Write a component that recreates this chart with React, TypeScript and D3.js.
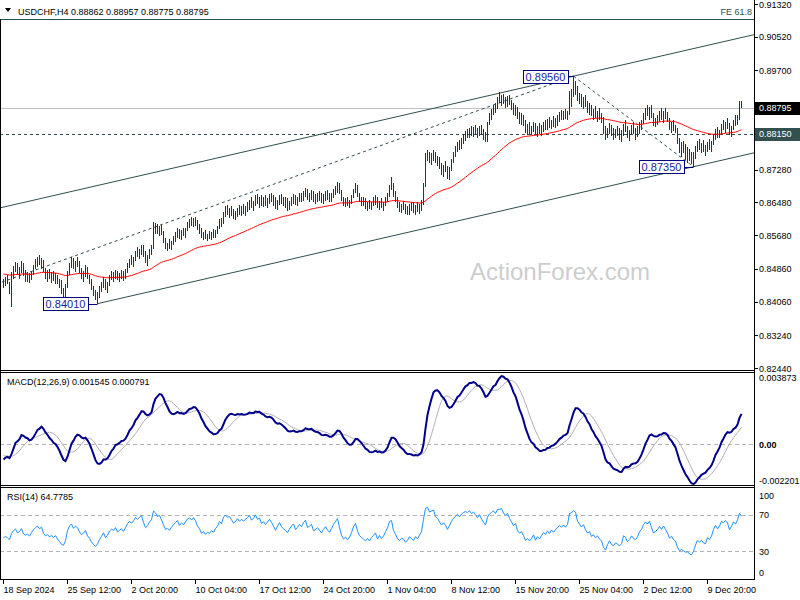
import React from "react";
import * as d3 from "d3";

// ---------- DATA ----------
const titleText = "USDCHF,H4  0.88862 0.88957 0.88775 0.88795";
const macdTitle = "MACD(12,26,9) 0.001545 0.000791";
const rsiTitle = "RSI(14) 64.7785";

// H4 bars: [high, low, close] in pips (price * 10000)
const barsHLC: number[][] = [
  [8462,8440,8452],[8465,8445,8458],[8470,8448,8450],[8455,8425,8438],[8478,8393,8470],[8492,8462,8485],
  [8503,8478,8495],[8500,8470,8475],[8490,8460,8482],[8505,8475,8498],[8500,8468,8472],[8482,8455,8465],
  [8478,8455,8470],[8475,8452,8460],[8480,8458,8476],[8495,8470,8490],[8510,8485,8500],[8515,8490,8508],
  [8520,8495,8498],[8512,8485,8505],[8508,8478,8482],[8488,8462,8470],[8482,8455,8475],[8485,8460,8465],
  [8478,8452,8470],[8480,8456,8462],[8475,8450,8468],[8472,8448,8455],[8462,8440,8445],[8458,8425,8432],
  [8440,8418,8428],[8448,8417,8440],[8480,8440,8475],[8500,8470,8495],[8515,8488,8505],[8512,8485,8490],
  [8505,8478,8500],[8515,8490,8495],[8505,8475,8480],[8488,8462,8470],[8480,8455,8475],[8495,8465,8485],
  [8490,8460,8465],[8472,8450,8455],[8460,8435,8440],[8445,8420,8428],[8435,8410,8418],[8430,8401,8425],
  [8445,8415,8438],[8455,8430,8448],[8466,8440,8460],[8462,8435,8442],[8455,8428,8450],[8470,8445,8465],
  [8480,8458,8472],[8478,8455,8468],[8483,8460,8478],[8480,8458,8465],[8475,8455,8470],[8482,8460,8476],
  [8480,8457,8468],[8485,8462,8480],[8500,8475,8495],[8510,8488,8505],[8520,8495,8500],[8515,8490,8510],
  [8530,8505,8525],[8540,8515,8520],[8535,8510,8530],[8545,8520,8538],[8544,8515,8522],[8530,8500,8508],
  [8520,8492,8515],[8535,8510,8530],[8545,8520,8540],[8600,8535,8590],[8598,8572,8585],[8595,8570,8575],
  [8590,8565,8582],[8592,8568,8570],[8578,8550,8555],[8560,8535,8540],[8550,8530,8545],[8558,8535,8538],
  [8555,8532,8550],[8565,8545,8560],[8575,8552,8570],[8585,8560,8578],[8582,8558,8565],[8580,8556,8575],
  [8586,8565,8570],[8585,8562,8582],[8600,8578,8595],[8608,8585,8600],[8612,8590,8595],[8610,8588,8605],
  [8612,8590,8598],[8605,8580,8585],[8595,8570,8578],[8585,8560,8565],[8575,8556,8570],[8580,8558,8562],
  [8572,8555,8568],[8578,8558,8565],[8575,8556,8572],[8582,8560,8568],[8580,8562,8578],[8590,8570,8585],
  [8608,8582,8600],[8610,8588,8595],[8625,8595,8620],[8638,8612,8630],[8642,8618,8625],[8635,8610,8628],
  [8640,8615,8622],[8632,8608,8615],[8628,8605,8620],[8635,8612,8630],[8642,8618,8625],[8638,8615,8632],
  [8645,8620,8628],[8640,8616,8635],[8648,8625,8640],[8655,8630,8648],[8660,8635,8640],[8652,8628,8645],
  [8665,8640,8658],[8668,8645,8650],[8660,8635,8655],[8665,8640,8645],[8660,8637,8650],[8665,8640,8645],
  [8658,8635,8652],[8668,8645,8660],[8670,8648,8655],[8665,8640,8648],[8660,8632,8640],[8655,8630,8650],
  [8665,8642,8660],[8668,8645,8652],[8662,8640,8648],[8660,8635,8645],[8658,8628,8640],[8652,8630,8648],
  [8662,8640,8655],[8668,8645,8660],[8665,8642,8650],[8660,8638,8655],[8670,8648,8662],[8672,8650,8658],
  [8675,8652,8668],[8683,8660,8675],[8680,8655,8662],[8672,8650,8665],[8678,8655,8670],[8675,8650,8658],
  [8668,8645,8660],[8670,8648,8665],[8676,8652,8660],[8670,8646,8655],[8668,8645,8662],[8675,8652,8668],
  [8678,8655,8662],[8672,8648,8658],[8670,8650,8665],[8680,8658,8675],[8688,8665,8682],[8698,8672,8690],
  [8695,8668,8675],[8678,8652,8658],[8662,8640,8648],[8658,8637,8652],[8660,8638,8645],[8655,8635,8650],
  [8665,8645,8660],[8680,8658,8675],[8695,8670,8685],[8690,8662,8668],[8672,8648,8655],[8662,8640,8650],
  [8660,8638,8645],[8658,8632,8640],[8650,8628,8645],[8655,8632,8638],[8650,8630,8645],[8660,8638,8650],
  [8665,8642,8655],[8660,8635,8640],[8652,8630,8648],[8658,8635,8640],[8650,8628,8645],[8662,8640,8655],
  [8672,8648,8665],[8690,8660,8685],[8710,8678,8688],[8695,8660,8665],[8675,8650,8655],[8660,8635,8640],
  [8648,8625,8635],[8645,8622,8640],[8652,8630,8638],[8645,8620,8628],[8640,8617,8632],[8645,8618,8640],
  [8650,8628,8635],[8648,8622,8630],[8642,8618,8638],[8650,8625,8632],[8645,8620,8640],[8655,8628,8648],
  [8695,8642,8688],[8768,8685,8755],[8776,8748,8765],[8772,8745,8752],[8768,8740,8760],[8775,8750,8768],
  [8770,8745,8750],[8762,8738,8745],[8758,8730,8735],[8745,8715,8725],[8740,8710,8735],[8750,8722,8728],
  [8738,8705,8715],[8735,8703,8730],[8755,8725,8750],[8770,8745,8765],[8785,8758,8778],[8795,8770,8788],
  [8800,8775,8782],[8805,8778,8798],[8815,8790,8808],[8822,8798,8815],[8828,8805,8812],[8830,8805,8825],
  [8835,8810,8818],[8832,8808,8828],[8838,8815,8822],[8830,8805,8815],[8835,8810,8830],[8837,8812,8820],
  [8828,8800,8812],[8820,8795,8805],[8845,8795,8840],[8865,8838,8858],[8875,8850,8868],[8885,8860,8878],
  [8890,8865,8872],[8905,8875,8898],[8917,8890,8900],[8910,8882,8905],[8912,8888,8895],[8905,8878,8890],
  [8908,8880,8900],[8910,8885,8888],[8898,8873,8880],[8890,8862,8870],[8885,8858,8878],[8880,8852,8858],
  [8868,8840,8850],[8865,8838,8855],[8862,8835,8842],[8848,8818,8825],[8840,8812,8830],[8845,8815,8822],
  [8835,8812,8828],[8845,8820,8838],[8842,8815,8820],[8835,8808,8830],[8842,8815,8822],[8838,8810,8832],
  [8845,8820,8840],[8850,8825,8835],[8852,8825,8845],[8856,8830,8838],[8850,8826,8848],[8858,8832,8842],
  [8855,8830,8850],[8860,8835,8855],[8868,8845,8862],[8873,8850,8858],[8870,8848,8865],[8875,8852,8860],
  [8872,8850,8868],[8920,8862,8912],[8925,8880,8915],[8956,8905,8928],[8945,8910,8925],[8932,8895,8905],
  [8915,8888,8898],[8912,8880,8890],[8905,8875,8898],[8910,8880,8885],[8895,8866,8875],[8890,8862,8880],
  [8885,8858,8865],[8875,8848,8870],[8882,8855,8860],[8870,8845,8865],[8878,8850,8855],[8865,8842,8850],
  [8856,8815,8825],[8835,8800,8812],[8830,8805,8825],[8842,8815,8835],[8838,8810,8820],[8830,8800,8815],
  [8828,8805,8822],[8835,8810,8818],[8830,8800,8810],[8825,8795,8815],[8840,8810,8835],[8849,8820,8830],
  [8835,8805,8815],[8825,8798,8820],[8838,8812,8830],[8845,8815,8822],[8830,8800,8818],[8835,8808,8825],
  [8844,8815,8838],[8850,8825,8845],[8865,8840,8860],[8878,8850,8870],[8886,8858,8865],[8880,8850,8875],
  [8885,8855,8860],[8866,8835,8845],[8855,8832,8850],[8862,8838,8855],[8870,8845,8865],[8878,8850,8858],
  [8872,8842,8868],[8878,8852,8860],[8868,8845,8850],[8854,8825,8835],[8845,8818,8840],[8850,8822,8830],
  [8838,8817,8825],[8830,8790,8800],[8805,8768,8785],[8795,8758,8788],[8798,8768,8782],[8790,8752,8775],
  [8782,8745,8776],[8778,8748,8765],[8772,8742,8762],[8770,8735,8768],[8785,8755,8780],[8798,8770,8790],
  [8802,8775,8784],[8792,8768,8788],[8800,8772,8780],[8788,8762,8778],[8795,8770,8790],[8802,8776,8785],
  [8798,8772,8792],[8815,8788,8808],[8828,8800,8820],[8832,8805,8812],[8825,8805,8820],[8840,8815,8835],
  [8850,8825,8832],[8845,8818,8840],[8854,8828,8835],[8842,8812,8820],[8835,8808,8830],[8848,8825,8845],
  [8860,8835,8840],[8862,8838,8855],[8896,8850,8886],[8895.7,8877.5,8879.5],
];

const priceTicks = [0.9132, 0.9052, 0.897, 0.8888, 0.8806, 0.8728, 0.8648, 0.8568, 0.8486, 0.8406, 0.8324, 0.8244];
const timeLabels = ["18 Sep 2024", "25 Sep 12:00", "2 Oct 20:00", "10 Oct 04:00", "17 Oct 12:00", "24 Oct 20:00",
  "1 Nov 04:00", "8 Nov 12:00", "15 Nov 20:00", "25 Nov 04:00", "2 Dec 12:00", "9 Dec 20:00"];
const timeLabelBars = [0, 32, 64, 96, 128, 160, 192, 224, 256, 288, 320, 352];
const macdTickValues = [0.003873, 0, -0.002201];
const macdTickLabels = ["0.003873", "0.00", "-0.002201"];
const rsiTickValues = [100, 70, 30, 0];
const rsiLevels = [70, 30];

// swing points: A (off chart), B high, C low, and the channel low
const fibA = { bar: -46, price: 0.8374 };
const fibB = { bar: 285, price: 0.8956, label: "0.89560" };
const fibC = { bar: 345, price: 0.8735, label: "0.87350" };
const swingLow = { bar: 47, price: 0.8401, label: "0.84010" };
const feRatio = 0.618;
const supportLevel = 0.8815;
const lastPrice = 0.88795;

// indicator seeds (values at the first visible bar)
const maPeriod = 55;
const maSeed = 0.8474;
const ema12Seed = 0.8452;
const ema26Seed = 0.8461;
const signalSeed = -0.0006;
const rsiSeedGain = 0.0009;
const rsiSeedLoss = 0.0011;

// ---------- HELPERS ----------
function ema(vals: number[], period: number, seed: number) {
  const k = 2 / (period + 1);
  let prev = seed;
  return vals.map((v) => (prev = prev + k * (v - prev)));
}

const FONT = "'Liberation Sans', Arial, sans-serif";

export default function App() {
  const W = 800, H = 600;
  const R = 754;
  const x = d3.scaleLinear().domain([0, 1]).range([3.5, 5.5]);
  const y = d3.scaleLinear().domain([0.8244, 0.9132]).range([368, 4]);
  const yM = d3.scaleLinear().domain([-0.002201, 0.003873]).range([485, 372]);
  const yR = d3.scaleLinear().domain([0, 100]).range([579, 487]);

  const highs = barsHLC.map((b) => b[0] / 10000);
  const lows = barsHLC.map((b) => b[1] / 10000);
  const closes = barsHLC.map((b) => b[2] / 10000);

  const ma = ema(closes, maPeriod, maSeed);
  const e12 = ema(closes, 12, ema12Seed);
  const e26 = ema(closes, 26, ema26Seed);
  const macd = e12.map((v, i) => v - e26[i]);
  const signal = macd.map((_, i) => {
    let s = 0;
    for (let k = i - 8; k <= i; k++) s += k >= 0 ? macd[k] : signalSeed;
    return s / 9;
  });
  let ag = rsiSeedGain, al = rsiSeedLoss;
  const rsi = closes.map((c, i) => {
    if (i > 0) {
      const d = c - closes[i - 1];
      ag = (ag * 13 + Math.max(d, 0)) / 14;
      al = (al * 13 + Math.max(-d, 0)) / 14;
    }
    return al === 0 ? 100 : 100 - 100 / (1 + ag / al);
  });

  const lineMain = d3.line<number>().x((_, i) => x(i)).y((d) => y(d));
  const lineM = d3.line<number>().x((_, i) => x(i)).y((d) => yM(d));
  const lineR = d3.line<number>().x((_, i) => x(i)).y((d) => yR(d));

  // channel from swing low to C, parallel through B
  const slope = (fibC.price - swingLow.price) / (fibC.bar - swingLow.bar);
  const barAtX = (px: number) => x.invert(px);
  const rightBar = barAtX(R);
  const leftBar = barAtX(0);
  const lowerEnd = swingLow.price + slope * (rightBar - swingLow.bar);
  const upperAt = (b: number) => fibB.price + slope * (b - fibB.bar);
  const fePrice = fibC.price + feRatio * (fibB.price - fibA.price);

  const pivots = [fibB, fibC, swingLow];

  // price tick labels hidden behind the marker boxes
  const boxYs = [y(supportLevel), y(lastPrice)];
  const visiblePriceTicks = priceTicks.filter((t) => boxYs.every((by) => Math.abs(y(t) - by) > 9));

  return (
    <svg width={W} height={H} style={{ position: "absolute", left: 0, top: 0, background: "#fff" }} fontFamily={FONT}>
      <defs>
        <clipPath id="mainClip"><rect x={1} y={0} width={R - 1} height={370} /></clipPath>
        <clipPath id="macdClip"><rect x={1} y={373} width={R - 1} height={112} /></clipPath>
        <clipPath id="rsiClip"><rect x={1} y={488} width={R - 1} height={91} /></clipPath>
      </defs>
      <rect x={0} y={0} width={W} height={H} fill="#fff" />

      {/* watermark */}
      <text x={560} y={280} textAnchor="middle" fontSize={24} fill="#cdcdcd">ActionForex.com</text>

      <g clipPath="url(#mainClip)">
        <line x1={0} x2={R} y1={Math.round(y(fePrice)) + 0.5} y2={Math.round(y(fePrice)) + 0.5} stroke="#2F4F4F" />
        <line x1={0} x2={R} y1={Math.round(y(lastPrice)) + 0.5} y2={Math.round(y(lastPrice)) + 0.5} stroke="#c0c0c0" />
        <line x1={0} x2={R} y1={Math.round(y(supportLevel)) + 0.5} y2={Math.round(y(supportLevel)) + 0.5} stroke="#2F4F4F" strokeDasharray="3,3" />
        <line x1={0} y1={y(upperAt(leftBar))} x2={R} y2={y(upperAt(rightBar))} stroke="#2F4F4F" />
        <line x1={x(swingLow.bar)} y1={y(swingLow.price)} x2={R} y2={y(lowerEnd)} stroke="#2F4F4F" />
        <line x1={x(fibA.bar)} y1={y(fibA.price)} x2={x(fibB.bar)} y2={y(fibB.price)} stroke="#2F4F4F" strokeDasharray="3,3" />
        <line x1={x(fibB.bar)} y1={y(fibB.price)} x2={x(fibC.bar)} y2={y(fibC.price)} stroke="#2F4F4F" strokeDasharray="3,3" />
        {barsHLC.map((_, i) => (
          <line key={i} x1={x(i)} x2={x(i)} y1={Math.round(y(highs[i]))} y2={Math.max(Math.round(y(lows[i])), Math.round(y(highs[i])) + 1)} stroke="#0f3a5c" />
        ))}
        <path d={lineMain(ma) || ""} fill="none" stroke="#ff0000" strokeWidth={1} />
        {pivots.map((p, k) => {
          const px = x(p.bar), py = y(p.price);
          const bw = 45, bh = 13;
          const gap = k === 0 ? 6 : 10;
          const bx = px - gap - bw;
          return (
            <g key={k}>
              <line x1={bx + bw} x2={px} y1={Math.round(py) + 0.5} y2={Math.round(py) + 0.5} stroke="#000080" />
              <rect x={Math.round(bx) + 0.5} y={Math.round(py - bh / 2) + 0.5} width={bw} height={bh} fill="#fff" stroke="#000080" />
              <text x={bx + bw / 2 + 0.5} y={py + 4.5} textAnchor="middle" fontSize={11} fill="#1a1aa0">{p.label}</text>
            </g>
          );
        })}
        <text x={752} y={15} textAnchor="end" fontSize={9} fill="#2F4F4F">FE 61.8</text>
      </g>

      {/* header */}
      <path d="M5,8 L11,8 L8,12 Z" fill="#000" />
      <text x={18} y={14.5} fontSize={9} fill="#000">{titleText}</text>

      {/* MACD */}
      <g clipPath="url(#macdClip)">
        <line x1={0} x2={R} y1={Math.round(yM(0)) + 0.5} y2={Math.round(yM(0)) + 0.5} stroke="#b4b4b4" strokeDasharray="4,3" />
        <path d={lineM(signal) || ""} fill="none" stroke="#b0b0b0" strokeWidth={1} />
        <path d={lineM(macd) || ""} fill="none" stroke="#00008b" strokeWidth={2} />
      </g>
      <text x={7} y={385} fontSize={9} fill="#000">{macdTitle}</text>

      {/* RSI */}
      <g clipPath="url(#rsiClip)">
        {rsiLevels.map((lv) => (
          <line key={lv} x1={0} x2={R} y1={Math.round(yR(lv)) + 0.5} y2={Math.round(yR(lv)) + 0.5} stroke="#b4b4b4" strokeDasharray="4,3" />
        ))}
        <path d={lineR(rsi) || ""} fill="none" stroke="#1e90ff" strokeWidth={1} />
      </g>
      <text x={7} y={500} fontSize={9} fill="#000">{rsiTitle}</text>

      {/* panel borders */}
      <g stroke="#000" strokeWidth={1} shapeRendering="crispEdges">
        <line x1={0.5} x2={0.5} y1={19} y2={580} />
        <line x1={R + 0.5} x2={R + 0.5} y1={0} y2={580} />
        <line x1={0} x2={R + 1} y1={370.5} y2={370.5} />
        <line x1={0} x2={R + 1} y1={372.5} y2={372.5} />
        <line x1={0} x2={R + 1} y1={485.5} y2={485.5} />
        <line x1={0} x2={R + 1} y1={487.5} y2={487.5} />
        <line x1={0} x2={R + 1} y1={579.5} y2={579.5} />
      </g>

      {/* price axis */}
      {priceTicks.map((t) => (
        <line key={"t" + t} x1={R} x2={R + 4} y1={Math.round(y(t)) + 0.5} y2={Math.round(y(t)) + 0.5} stroke="#000" />
      ))}
      {visiblePriceTicks.map((t) => (
        <text key={t} x={759} y={y(t) + 3.5} fontSize={9} fill="#000">{t.toFixed(5)}</text>
      ))}
      <rect x={755} y={Math.round(y(supportLevel)) - 6} width={45} height={13} fill="#33504f" />
      <text x={759} y={y(supportLevel) + 3.5} fontSize={9} fill="#fff">{supportLevel.toFixed(5)}</text>
      <rect x={755} y={Math.round(y(lastPrice)) - 6} width={45} height={13} fill="#000" />
      <text x={759} y={y(lastPrice) + 3.5} fontSize={9} fill="#fff">{lastPrice.toFixed(5)}</text>

      {/* MACD axis */}
      {macdTickValues.map((v, i) => {
        const ty = i === 0 ? 377 : i === 2 ? 480 : yM(v);
        return <text key={i} x={759} y={ty + 3.5} fontSize={9} fill="#000" fontWeight={i === 1 ? "bold" : "normal"}>{macdTickLabels[i]}</text>;
      })}
      {/* RSI axis */}
      {rsiTickValues.map((v) => {
        const ty = v === 100 ? 495 : v === 0 ? 572 : yR(v);
        return <text key={v} x={759} y={ty + 3.5} fontSize={9} fill="#000">{v}</text>;
      })}

      {/* time axis */}
      {timeLabelBars.map((b, i) => (
        <g key={b}>
          <line x1={Math.round(x(b)) - 0.5} x2={Math.round(x(b)) - 0.5} y1={580} y2={584} stroke="#000" />
          <text x={x(b)} y={593} fontSize={9} fill="#000">{timeLabels[i]}</text>
        </g>
      ))}
    </svg>
  );
}
